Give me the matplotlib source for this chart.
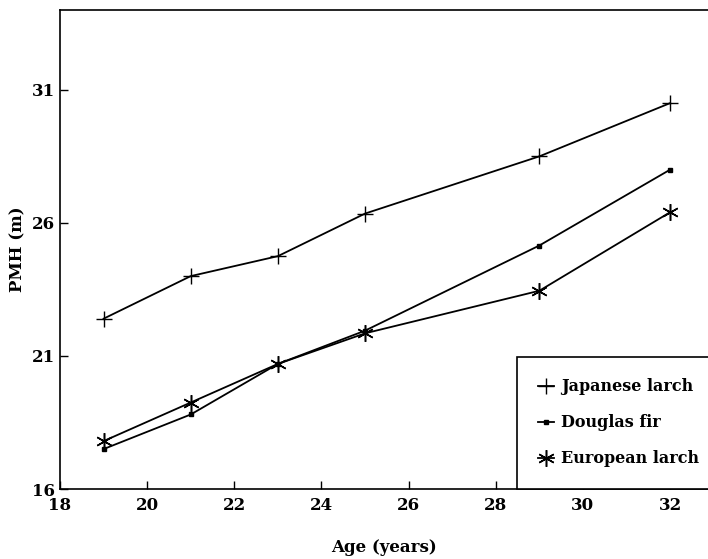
import numpy as np
import matplotlib.pyplot as plt

# ages and PMH values
ages = [19, 21, 23, 25, 29, 32]
japanese_larch = [22.4, 24.0, 24.75, 26.35, 28.5, 30.5]
douglas_fir = [17.5, 18.8, 20.7, 21.95, 25.15, 28.0]
european_larch = [17.8, 19.25, 20.7, 21.85, 23.45, 26.4]

x_ticks = [18, 20, 22, 24, 26, 28, 30, 32]
y_ticks = [16, 21, 26, 31]

plt.rcParams['font.family'] = ['DejaVu Serif']

fig = plt.figure(figsize=(7.08, 5.59), dpi=100)
ax = fig.add_axes([60 / 708, 70 / 559, 1 - 60 / 708, 479 / 559])

ax.plot(ages, japanese_larch, color='black', lw=1.3, marker='+', ms=12,
        mew=1.0, label='Japanese larch')
ax.plot(ages, douglas_fir, color='black', lw=1.3, marker='s', ms=3,
        label='Douglas fir')
ax.plot(ages, european_larch, color='black', lw=1.3, marker=(6, 2, 0), ms=12,
        mew=1.1, label='European larch')

ax.set_xlim(18, 32.87)
ax.set_ylim(16, 34)
ax.set_xticks(x_ticks)
ax.set_yticks(y_ticks)
ax.tick_params(direction='in', length=6, width=1, labelsize=12)
ax.tick_params(axis='x', pad=6)
for lbl in ax.get_xticklabels() + ax.get_yticklabels():
    lbl.set_fontweight('bold')
ax.spines['right'].set_visible(False)
for s in ['left', 'top', 'bottom']:
    ax.spines[s].set_linewidth(1.2)

ax.set_xlabel('Age (years)', fontsize=12, fontweight='bold', labelpad=18)
ax.set_ylabel('PMH (m)', fontsize=12, fontweight='bold', labelpad=4)

leg = ax.legend(loc='lower left', bbox_to_anchor=(0.705, 0, 0.3, 0.27),
                mode='expand', fancybox=False, edgecolor='black',
                borderaxespad=0, handlelength=1.0, handletextpad=0.4,
                labelspacing=1.2, borderpad=1.35, fontsize=11.5, framealpha=1)
leg.get_frame().set_linewidth(1.2)
for t in leg.get_texts():
    t.set_fontweight('bold')

fig.savefig('out.png', dpi=100)
